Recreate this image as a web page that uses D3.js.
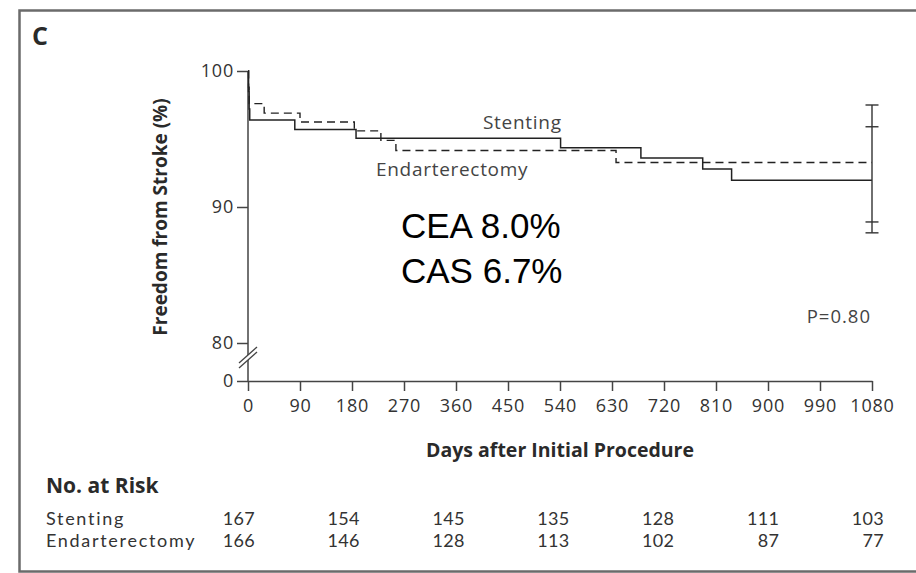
<!DOCTYPE html>
<html>
<head>
<meta charset="utf-8">
<script src="https://cdn.jsdelivr.net/npm/d3@7"></script>
<style>
  body { margin: 0; background: #fff; }
  svg { display: block; }
</style>
</head>
<body>
<script>
// x axis ticks (days) and y axis ticks (percent, axis is broken between 0 and 80)
const dayTicks = [0, 90, 180, 270, 360, 450, 540, 630, 720, 810, 900, 990, 1080]
const pctTicks = [0, 80, 90, 100]

// Kaplan-Meier step curves
const stentDays = [0, 1, 2, 3, 81, 187, 541, 680, 787, 837, 1080]
const stentFree = [100, 98.5, 97.2, 96.4, 95.7, 95.05, 94.35, 93.6, 92.8, 91.97, 91.97]
const endaDays = [0, 1, 2, 28, 90, 184, 230, 256, 637, 1080]
const endaFree = [100, 98.8, 97.6, 96.9, 96.25, 95.6, 94.9, 94.15, 93.27, 93.27]

// 95% confidence limits at day 1080
const stentCI = [88.1, 95.9]
const endaCI = [88.9, 97.5]

// number at risk table
const riskDays = [0, 180, 360, 540, 720, 900, 1080]
const riskStent = [167, 154, 145, 135, 128, 111, 103]
const riskEnda = [166, 146, 128, 113, 102, 87, 77]

const width = 916
const height = 573
const font = '"Open Sans", Lato, sans-serif'
const tableFont = 'Lato, "Open Sans", sans-serif'
const ink = '#2a2a2a'
const grey = '#444'

const svg = d3.select('body').append('svg')
  .attr('width', width)
  .attr('height', height)

svg.append('rect')
  .attr('width', width).attr('height', height)
  .attr('fill', '#fff')

// panel frame (open on the right)
svg.append('path')
  .attr('d', `M${width},10.5 H19.5 V571.5 H${width}`)
  .attr('fill', 'none')
  .attr('stroke', '#6b6b6b')
  .attr('stroke-width', 2.5)

svg.append('text')
  .attr('x', 32).attr('y', 45)
  .attr('font-family', font).attr('font-weight', 700)
  .attr('font-size', 25).attr('fill', ink)
  .text('C')

const x = d3.scaleLinear().domain([0, 1080]).range([248, 872])
const y = d3.scaleLinear().domain([0, 80, 100]).range([381, 343, 71])

// x axis
const xAxis = svg.append('g')
  .attr('transform', `translate(0,${y(0)})`)
  .call(d3.axisBottom(x).tickValues(dayTicks).tickFormat(d3.format('d'))
    .tickSize(10).tickSizeOuter(0).tickPadding(8))
xAxis.select('.domain').attr('stroke', grey).attr('stroke-width', 1.5)
xAxis.selectAll('.tick line').attr('stroke', grey).attr('stroke-width', 1.5)
xAxis.selectAll('.tick text')
  .attr('font-family', font).attr('font-size', 18).attr('fill', '#333')
  .attr('letter-spacing', 0.8)

// y axis
const yAxis = svg.append('g')
  .attr('transform', `translate(${x(0)},0)`)
  .call(d3.axisLeft(y).tickValues(pctTicks).tickSize(11).tickSizeOuter(0).tickPadding(3))
yAxis.select('.domain').remove()
yAxis.selectAll('.tick line').attr('stroke', grey).attr('stroke-width', 1.5)
yAxis.selectAll('.tick text')
  .attr('font-family', font).attr('font-size', 18).attr('fill', '#333')
  .attr('letter-spacing', 0.8)

// axis line with a break between 0 and 80
const breakTop = y(80) + 12
const breakBottom = y(80) + 17
svg.append('path')
  .attr('d', `M${x(0)},${y(100)} V${breakTop} M${x(0)},${breakBottom} V${y(0)}`)
  .attr('stroke', grey).attr('stroke-width', 1.5).attr('fill', 'none')
svg.selectAll('.breakMark')
  .data([breakTop, breakBottom])
  .enter().append('line')
  .attr('class', 'breakMark')
  .attr('x1', x(0) - 9).attr('y1', d => d + 8)
  .attr('x2', x(0) + 9).attr('y2', d => d - 8)
  .attr('stroke', grey).attr('stroke-width', 1.3)

svg.append('text')
  .attr('transform', `translate(167,217) rotate(-90)`)
  .attr('text-anchor', 'middle')
  .attr('font-family', font).attr('font-weight', 700)
  .attr('font-size', 19).attr('fill', ink)
  .text('Freedom from Stroke (%)')

svg.append('text')
  .attr('x', (x(0) + x(1080)) / 2).attr('y', 457)
  .attr('text-anchor', 'middle')
  .attr('font-family', font).attr('font-weight', 700)
  .attr('font-size', 19.5).attr('fill', ink)
  .text('Days after Initial Procedure')

// survival curves
const step = d3.line()
  .x(d => x(d[0]))
  .y(d => y(d[1]))
  .curve(d3.curveStepAfter)

svg.append('path')
  .datum(d3.zip(endaDays, endaFree))
  .attr('d', step)
  .attr('fill', 'none').attr('stroke', '#222')
  .attr('stroke-width', 1.4).attr('stroke-dasharray', '8,5')

svg.append('path')
  .datum(d3.zip(stentDays, stentFree))
  .attr('d', step)
  .attr('fill', 'none').attr('stroke', '#222')
  .attr('stroke-width', 1.5)

// confidence intervals at the end of follow-up
const ciVals = [stentCI[0], stentCI[1], endaCI[0], endaCI[1]]
svg.append('line')
  .attr('x1', x(1080)).attr('x2', x(1080))
  .attr('y1', y(d3.max(ciVals))).attr('y2', y(d3.min(ciVals)))
  .attr('stroke', '#333').attr('stroke-width', 1.4)
svg.selectAll('.ciTick')
  .data(ciVals)
  .enter().append('line')
  .attr('class', 'ciTick')
  .attr('x1', x(1080) - 6.5).attr('x2', x(1080) + 6.5)
  .attr('y1', d => y(d)).attr('y2', d => y(d))
  .attr('stroke', '#333').attr('stroke-width', 1.4)

// curve labels
svg.append('text')
  .attr('x', 483).attr('y', 129)
  .attr('font-family', font).attr('font-size', 19).attr('fill', grey)
  .attr('letter-spacing', 0.7)
  .text('Stenting')
svg.append('text')
  .attr('x', 376).attr('y', 176)
  .attr('font-family', font).attr('font-size', 19).attr('fill', grey)
  .attr('letter-spacing', 0.7)
  .text('Endarterectomy')

svg.append('text')
  .attr('x', 401).attr('y', 238)
  .attr('font-family', 'Liberation Sans, Arial, sans-serif')
  .attr('font-size', 35).attr('fill', '#000')
  .text('CEA 8.0%')
svg.append('text')
  .attr('x', 401).attr('y', 283)
  .attr('font-family', 'Liberation Sans, Arial, sans-serif')
  .attr('font-size', 35).attr('fill', '#000')
  .text('CAS 6.7%')

svg.append('text')
  .attr('x', 871).attr('y', 323)
  .attr('text-anchor', 'end')
  .attr('font-family', font).attr('font-size', 18.5).attr('fill', grey)
  .attr('letter-spacing', 1)
  .text('P=0.80')

// number at risk
const riskX = d3.scaleLinear().domain([0, 1080]).range([255, 884])
const tableLeft = 46

svg.append('text')
  .attr('x', tableLeft).attr('y', 493)
  .attr('font-family', font).attr('font-weight', 700)
  .attr('font-size', 21).attr('fill', ink)
  .text('No. at Risk')

const rows = [
  { label: 'Stenting', values: riskStent, y: 525 },
  { label: 'Endarterectomy', values: riskEnda, y: 547 }
]

rows.forEach(row => {
  svg.append('text')
    .attr('x', tableLeft).attr('y', row.y)
    .attr('font-family', tableFont).attr('font-size', 18).attr('fill', '#333')
    .attr('letter-spacing', 1.7)
    .text(row.label)
  svg.selectAll(null)
    .data(row.values)
    .enter().append('text')
    .attr('x', (_, i) => riskX(riskDays[i]))
    .attr('y', row.y)
    .attr('text-anchor', 'end')
    .attr('font-family', tableFont).attr('font-size', 18).attr('fill', '#333')
    .attr('letter-spacing', 0.3)
    .text(d => d)
})
</script>
</body>
</html>
